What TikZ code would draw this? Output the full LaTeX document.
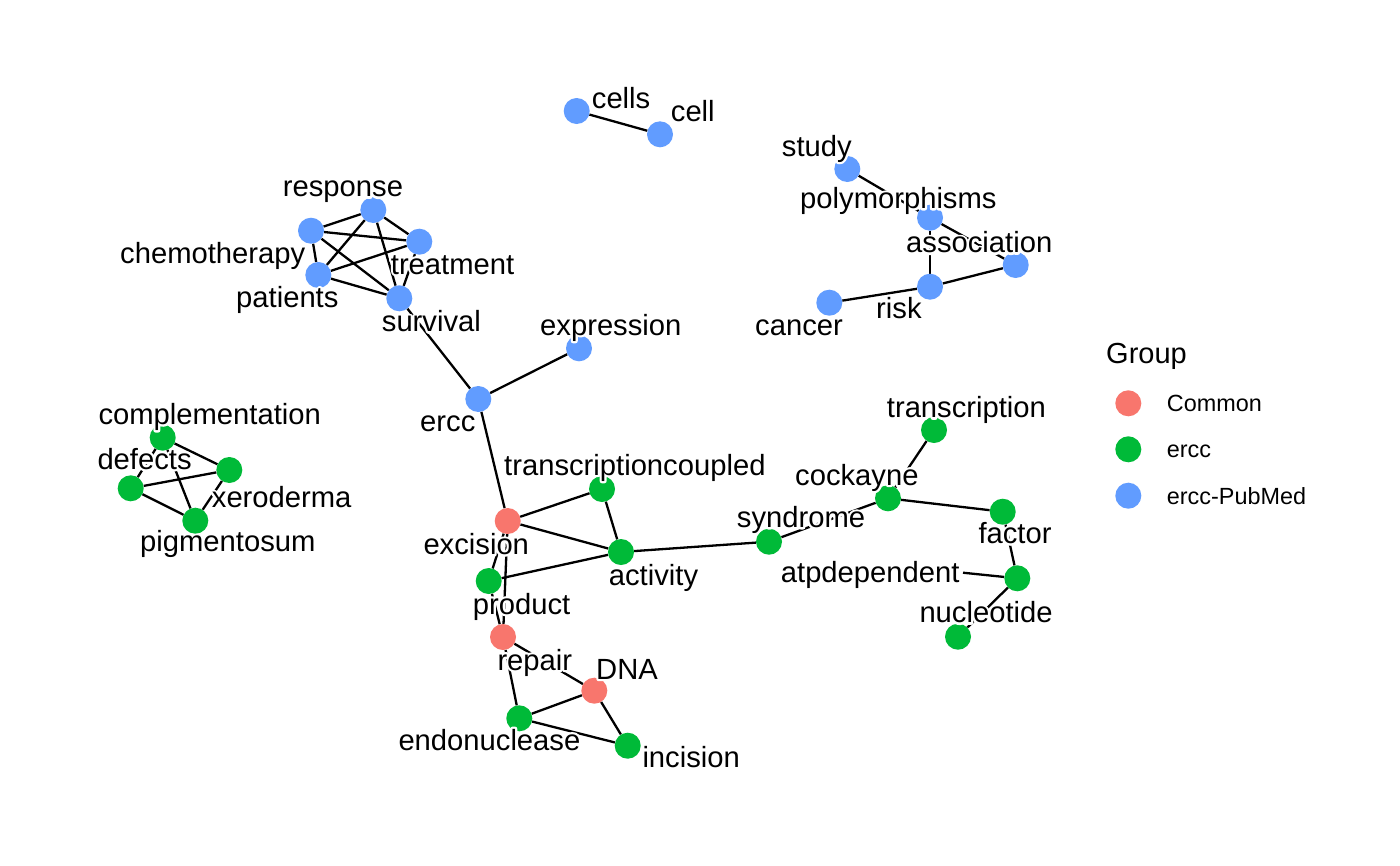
\documentclass[tikz,border=0pt]{standalone}
\usepackage{fontspec}
\setmainfont{Liberation Sans}
\definecolor{cCommon}{HTML}{F8766D}
\definecolor{cErcc}{HTML}{00BA38}
\definecolor{cPub}{HTML}{619CFF}
\pgfdeclarelayer{edgelayer}
\pgfsetlayers{edgelayer,main}
\tikzset{
  vert/.style={circle, inner sep=0pt, minimum size=26pt, draw=none},
  common/.style={vert, fill=cCommon},
  erccv/.style={vert, fill=cErcc},
  pub/.style={vert, fill=cPub},
  edge/.style={line width=2.3pt, black},
  lbl/.style={anchor=base west, inner sep=0pt, font=\fontsize{29.2}{34}\selectfont},
  legtext/.style={anchor=base west, inner sep=0pt, font=\fontsize{23.4}{28}\selectfont},
  legtitle/.style={anchor=base west, inner sep=0pt, font=\fontsize{29}{34}\selectfont},
}
\newcommand{\hl}[1]{\rlap{\special{pdf:code q 1 Tr 1 1 1 RG 1 J 1 j 4.4 w}#1\special{pdf:code 0 Tr Q}}#1}
\begin{document}
\begin{tikzpicture}[x=1pt,y=-1pt]
\begin{pgfonlayer}{edgelayer}
\fill[white] (0,0) rectangle (1400,865);
\end{pgfonlayer}
\useasboundingbox (0,0) rectangle (1400,865);

% vertices
\node[pub] (cells) at (576.7,111) {};
\node[pub] (cell) at (660,134.3) {};
\node[pub] (study) at (847.3,169) {};
\node[pub] (polymorphisms) at (930,217.7) {};
\node[pub] (association) at (1015.7,265) {};
\node[pub] (risk) at (930,286.7) {};
\node[pub] (cancer) at (829.3,302.7) {};
\node[pub] (response) at (373.3,210) {};
\node[pub] (chemotherapy) at (311,230.7) {};
\node[pub] (treatment) at (419.3,241.7) {};
\node[pub] (patients) at (318.3,275) {};
\node[pub] (survival) at (399.3,298.3) {};
\node[pub] (expression) at (579,348.3) {};
\node[pub] (ercc) at (478.3,399) {};
\node[erccv] (complementation) at (162.7,437.7) {};
\node[erccv] (xeroderma) at (229.3,470) {};
\node[erccv] (defects) at (130.7,488.3) {};
\node[erccv] (pigmentosum) at (195.3,520.7) {};
\node[common] (excision) at (507.7,521) {};
\node[erccv] (tcoupled) at (602,489) {};
\node[erccv] (activity) at (621,552) {};
\node[erccv] (product) at (488.7,581) {};
\node[common] (repair) at (503,637) {};
\node[common] (DNA) at (594.3,690.7) {};
\node[erccv] (endonuclease) at (519.3,718.3) {};
\node[erccv] (incision) at (627.7,745.7) {};
\node[erccv] (syndrome) at (769,541.7) {};
\node[erccv] (transcription) at (934,430) {};
\node[erccv] (cockayne) at (888,498.3) {};
\node[erccv] (factor) at (1002.7,511.7) {};
\node[erccv] (atpdependent) at (1017.3,578.3) {};
\node[erccv] (nucleotide) at (958,636.7) {};
\coordinate (atpend) at (963,572.7);

% edges
\begin{pgfonlayer}{edgelayer}
\draw[edge] (cells) -- (cell);
\draw[edge] (study) -- (polymorphisms);
\draw[edge] (polymorphisms) -- (association);
\draw[edge] (polymorphisms) -- (risk);
\draw[edge] (risk) -- (association);
\draw[edge] (risk) -- (cancer);
\draw[edge] (chemotherapy) -- (response);
\draw[edge] (chemotherapy) -- (treatment);
\draw[edge] (chemotherapy) -- (patients);
\draw[edge] (chemotherapy) -- (survival);
\draw[edge] (response) -- (patients);
\draw[edge] (response) -- (treatment);
\draw[edge] (response) -- (survival);
\draw[edge] (patients) -- (treatment);
\draw[edge] (patients) -- (survival);
\draw[edge] (treatment) -- (survival);
\draw[edge] (survival) -- (ercc);
\draw[edge] (ercc) -- (expression);
\draw[edge] (ercc) -- (excision);
\draw[edge] (complementation) -- (xeroderma);
\draw[edge] (complementation) -- (defects);
\draw[edge] (complementation) -- (pigmentosum);
\draw[edge] (defects) -- (xeroderma);
\draw[edge] (defects) -- (pigmentosum);
\draw[edge] (xeroderma) -- (pigmentosum);
\draw[edge] (excision) -- (tcoupled);
\draw[edge] (excision) -- (activity);
\draw[edge] (excision) -- (product);
\draw[edge] (excision) -- (repair);
\draw[edge] (tcoupled) -- (activity);
\draw[edge] (product) -- (activity);
\draw[edge] (product) -- (repair);
\draw[edge] (activity) -- (syndrome);
\draw[edge] (repair) -- (DNA);
\draw[edge] (repair) -- (endonuclease);
\draw[edge] (DNA) -- (endonuclease);
\draw[edge] (DNA) -- (incision);
\draw[edge] (endonuclease) -- (incision);
\draw[edge] (syndrome) -- (cockayne);
\draw[edge] (transcription) -- (cockayne);
\draw[edge] (cockayne) -- (factor);
\draw[edge] (factor) -- (atpdependent);
\draw[edge] (atpdependent) -- (nucleotide);
\draw[edge] (atpdependent) -- (atpend);
\end{pgfonlayer}

% labels
\node[lbl] (l-cells) at (591.7,108.3) {\hl{cells}};
\node[lbl] (l-cell) at (670.7,121.7) {\hl{cell}};
\node[lbl] (l-study) at (781.7,156) {\hl{study}};
\node[lbl] (l-polymorphisms) at (800,208.3) {\hl{polymorphisms}};
\node[lbl] (l-association) at (906,252.7) {\hl{association}};
\node[lbl] (l-risk) at (876,318.3) {\hl{risk}};
\node[lbl] (l-cancer) at (755,335) {\hl{cancer}};
\node[lbl] (l-response) at (282.7,196.7) {\hl{response}};
\node[lbl] (l-chemotherapy) at (120,263.3) {\hl{chemotherapy}};
\node[lbl] (l-treatment) at (390.7,274) {\hl{treatment}};
\node[lbl] (l-patients) at (236,307.3) {\hl{patients}};
\node[lbl] (l-survival) at (381.7,331.7) {\hl{survival}};
\node[lbl] (l-expression) at (540,335) {\hl{expression}};
\node[lbl] (l-ercc) at (420,431) {\hl{ercc}};
\node[lbl] (l-complementation) at (98.3,424.3) {\hl{complementation}};
\node[lbl] (l-defects) at (97.3,469) {\hl{defects}};
\node[lbl] (l-xeroderma) at (211.7,507.7) {\hl{xeroderma}};
\node[lbl] (l-pigmentosum) at (140,551.7) {\hl{pigmentosum}};
\node[lbl] (l-tcoupled) at (504,475) {\hl{transcriptioncoupled}};
\node[lbl] (l-excision) at (423.3,554.3) {\hl{excision}};
\node[lbl] (l-activity) at (608.7,585) {\hl{activity}};
\node[lbl] (l-product) at (472.7,614) {\hl{product}};
\node[lbl] (l-repair) at (497.3,670) {\hl{repair}};
\node[lbl] (l-DNA) at (596,679) {\hl{DNA}};
\node[lbl] (l-endonuclease) at (398.3,750) {\hl{endonuclease}};
\node[lbl] (l-incision) at (642.3,767) {\hl{incision}};
\node[lbl] (l-transcription) at (886.7,417.7) {\hl{transcription}};
\node[lbl] (l-cockayne) at (795,485) {\hl{cockayne}};
\node[lbl] (l-syndrome) at (736.7,527.3) {\hl{syndrome}};
\node[lbl] (l-factor) at (978.3,543.3) {\hl{factor}};
\node[lbl] (l-atpdependent) at (780.7,582.7) {\hl{atpdependent}};
\node[lbl] (l-nucleotide) at (919.3,622.7) {\hl{nucleotide}};

% legend
\node[legtitle] (leg-title) at (1106,363.3) {Group};
\node[common] (leg-c1) at (1128.3,403.3) {};
\node[erccv] (leg-c2) at (1128.3,449.3) {};
\node[pub] (leg-c3) at (1128.3,495.7) {};
\node[legtext] (leg-t1) at (1166.7,411.7) {Common};
\node[legtext] (leg-t2) at (1166.7,457.7) {ercc};
\node[legtext] (leg-t3) at (1166.7,504) {ercc-PubMed};
\end{tikzpicture}
\end{document}
